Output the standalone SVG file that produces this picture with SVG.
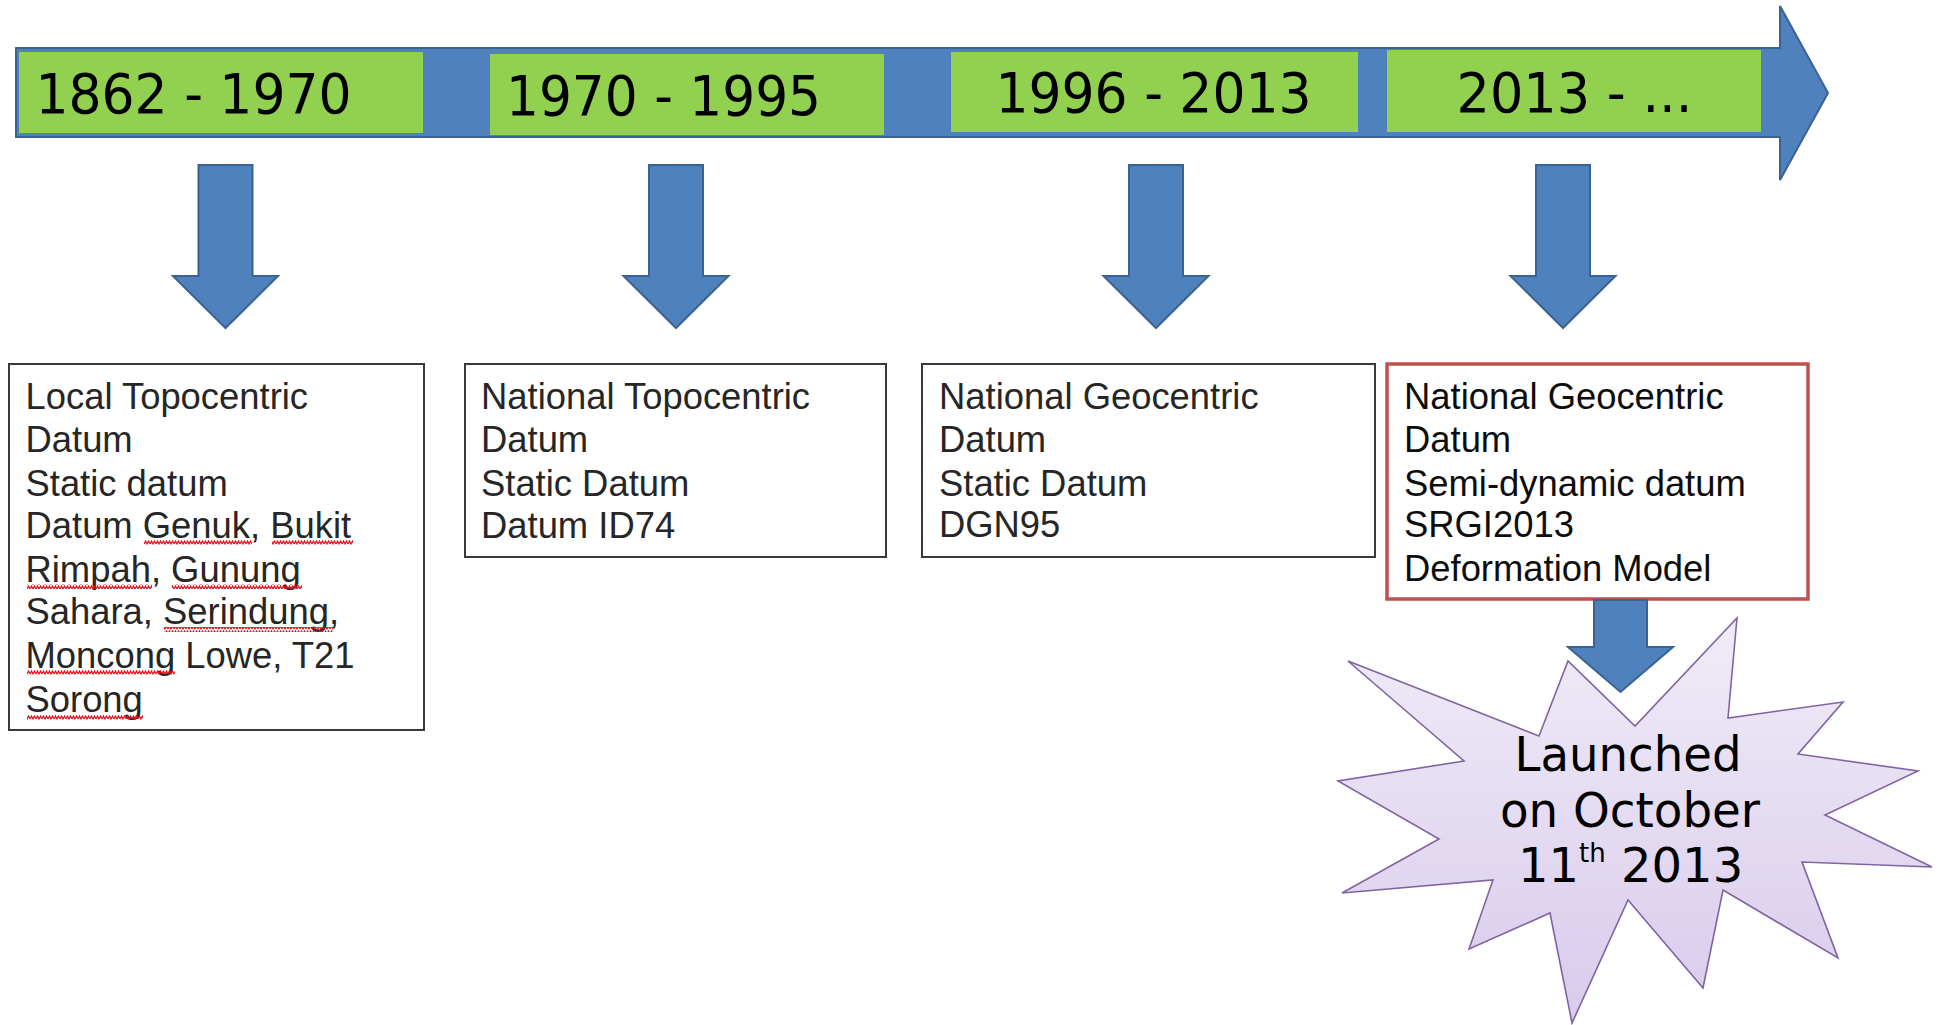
<svg xmlns="http://www.w3.org/2000/svg" width="1947" height="1025" viewBox="0 0 1947 1025">
  <style>
    .blue { fill: #4f81bd; stroke: #3b6294; stroke-width: 2; stroke-linejoin: miter; }
    .seg { fill: #92d050; stroke: none; }
    .hdr { font-family: "DejaVu Sans", Verdana, sans-serif; font-size: 55px; fill: #000; }
    .box { fill: #fff; stroke: #3a3a3a; stroke-width: 2; }
    .box-red { fill: #fff; stroke: #c0504d; stroke-width: 3.5; }
    .body { font-family: "Liberation Sans", Arial, sans-serif; font-size: 36.4px; fill: #262626; }
    .body-dark { fill: #0d0d0d; }
    .star-txt { font-family: "DejaVu Sans", Verdana, sans-serif; font-size: 48px; fill: #000; }
    .wavy { fill: url(#wave); }
  </style>
  <defs>
    <path id="darr" d="M -27,165 H 27 V 276 H 52.5 L 0,328 L -52.5,276 H -27 Z"/>
    <pattern id="wave" x="0" y="0" width="6" height="5" patternUnits="userSpaceOnUse">
      <polyline points="0,4 1.5,1 3,4 4.5,1 6,4" fill="none" stroke="#e8101a" stroke-width="1.2"/>
    </pattern>
    <linearGradient id="starfill" x1="0" y1="0" x2="0" y2="1">
      <stop offset="0" stop-color="#f0ecf7"/>
      <stop offset="1" stop-color="#d8cbec"/>
    </linearGradient>
  </defs>

  <g id="timeline">
    <path class="blue" d="M 16,48 H 1780 V 6 L 1828,93 L 1780,180 V 137 H 16 Z"/>
  </g>

  <g id="period-1862-1970">
    <rect class="seg" x="19" y="52" width="404" height="81"/>
    <text class="hdr" x="35.5" y="113" textLength="316" lengthAdjust="spacingAndGlyphs">1862 - 1970</text>
  </g>
  <g id="period-1970-1995">
    <rect class="seg" x="490" y="54" width="394" height="81"/>
    <text class="hdr" x="506" y="115" textLength="315" lengthAdjust="spacingAndGlyphs">1970 - 1995</text>
  </g>
  <g id="period-1996-2013">
    <rect class="seg" x="951" y="52" width="407" height="80"/>
    <text class="hdr" x="995.5" y="112" textLength="316" lengthAdjust="spacingAndGlyphs">1996 - 2013</text>
  </g>
  <g id="period-2013">
    <rect class="seg" x="1387" y="50" width="374" height="82"/>
    <text class="hdr" x="1456.5" y="112" textLength="236" lengthAdjust="spacingAndGlyphs">2013 - ...</text>
  </g>

  <g id="connectors">
    <use href="#darr" class="blue" transform="translate(225.5,0)"/>
    <use href="#darr" class="blue" transform="translate(676,0)"/>
    <use href="#darr" class="blue" transform="translate(1156,0)"/>
    <use href="#darr" class="blue" transform="translate(1563,0)"/>
  </g>

  <g id="box-local-topocentric">
    <rect class="box" x="9" y="364" width="415" height="366"/>
    <text class="body" x="25.5" y="409">Local Topocentric</text>
    <text class="body" x="25.5" y="452">Datum</text>
    <text class="body" x="25.5" y="496">Static datum</text>
    <text class="body" x="25.5" y="538">Datum Genuk, Bukit</text>
    <text class="body" x="25.5" y="582">Rimpah, Gunung</text>
    <text class="body" x="25.5" y="624">Sahara, Serindung,</text>
    <text class="body" x="25.5" y="668">Moncong Lowe, T21</text>
    <text class="body" x="25.5" y="712">Sorong</text>
    <rect class="wavy" x="144" y="540" width="108" height="5"/>
    <rect class="wavy" x="272" y="540" width="81" height="5"/>
    <rect class="wavy" x="27" y="584" width="125" height="5"/>
    <rect class="wavy" x="172" y="584" width="130" height="5"/>
    <rect class="wavy" x="164" y="627" width="169" height="5"/>
    <rect class="wavy" x="27" y="670" width="148" height="5"/>
    <rect class="wavy" x="27" y="715" width="116" height="5"/>
  </g>

  <g id="box-national-topocentric">
    <rect class="box" x="465" y="364" width="421" height="193"/>
    <text class="body" x="481" y="409">National Topocentric</text>
    <text class="body" x="481" y="452">Datum</text>
    <text class="body" x="481" y="496">Static Datum</text>
    <text class="body" x="481" y="538">Datum ID74</text>
  </g>

  <g id="box-national-geocentric">
    <rect class="box" x="922" y="364" width="453" height="193"/>
    <text class="body" x="939" y="409">National Geocentric</text>
    <text class="body" x="939" y="452">Datum</text>
    <text class="body" x="939" y="496">Static Datum</text>
    <text class="body" x="939" y="537">DGN95</text>
  </g>

  <g id="box-srgi2013">
    <rect class="box-red" x="1387" y="364" width="421" height="235"/>
    <text class="body body-dark" x="1404" y="409">National Geocentric</text>
    <text class="body body-dark" x="1404" y="452">Datum</text>
    <text class="body body-dark" x="1404" y="496">Semi-dynamic datum</text>
    <text class="body body-dark" x="1404" y="537">SRGI2013</text>
    <text class="body body-dark" x="1404" y="581">Deformation Model</text>
  </g>

  <g id="launch-star">
    <polygon fill="url(#starfill)" stroke="#8064a2" stroke-width="1.6" stroke-linejoin="miter"
      points="1348,661 1539,736 1568,661 1635,726 1737,618 1728,718 1843,702 1798,754 1918,771 1825,815 1932,867 1802,862 1838,958 1723,890 1703,988 1628,900 1572,1023 1550,913 1469,949 1493,880 1342,893 1439,839 1338,781 1464,761"/>
    <text class="star-txt" x="1514.5" y="771" textLength="227" lengthAdjust="spacingAndGlyphs">Launched</text>
    <text class="star-txt" x="1500" y="827" textLength="260" lengthAdjust="spacingAndGlyphs">on October</text>
    <text class="star-txt" x="1518" y="882">11<tspan font-size="26" dy="-20">th</tspan><tspan dy="20"> 2013</tspan></text>
  </g>

  <g id="connector-launch">
    <path class="blue" d="M 1594,600 H 1647 V 647 H 1673 L 1620.5,692 L 1568,647 H 1594 Z"/>
  </g>
</svg>
